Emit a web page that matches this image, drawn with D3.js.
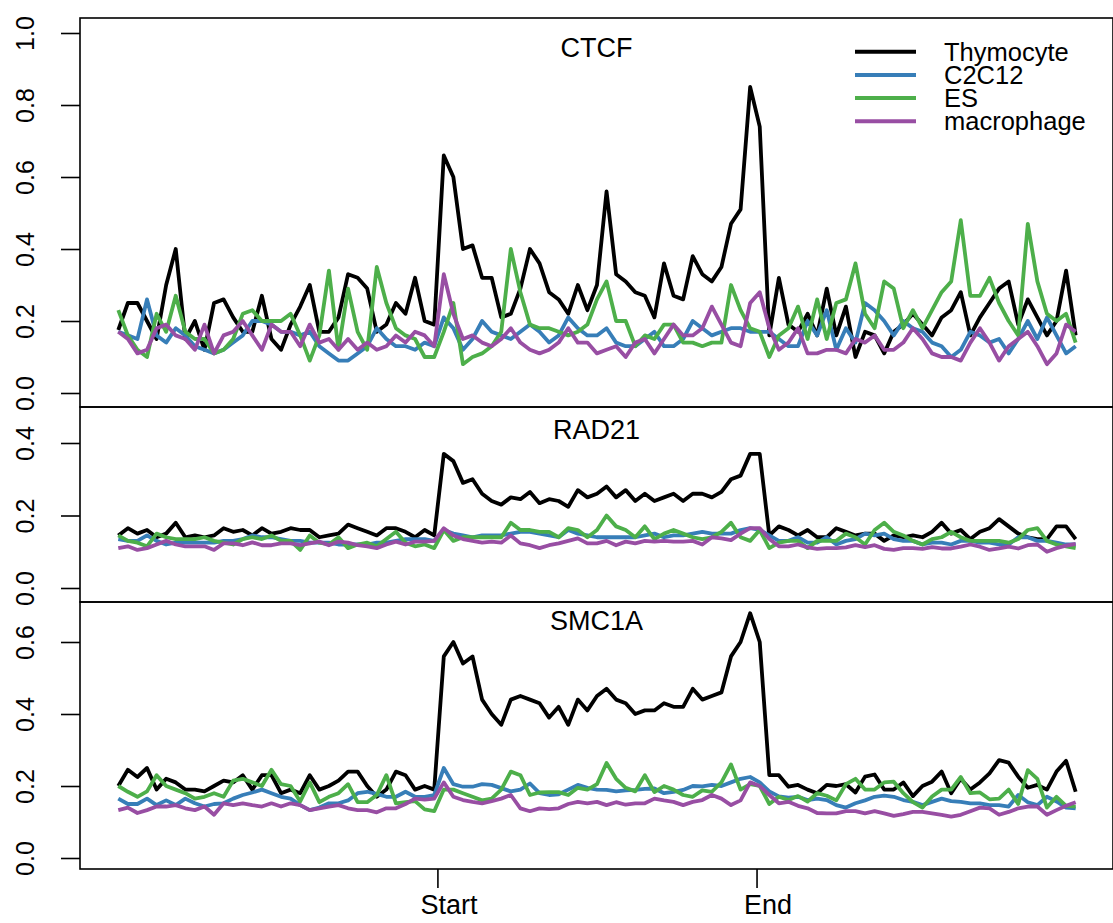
<!DOCTYPE html>
<html>
<head>
<meta charset="utf-8">
<script src="https://cdn.jsdelivr.net/npm/d3@7"></script>
<style>
  body { margin: 0; background: #fff; }
  text { font-family: "Liberation Sans", Arial, Helvetica, sans-serif; }
</style>
</head>
<body>
<svg id="chart" width="1113" height="923"></svg>
<script>

// cell types, in legend order
var cellTypes = ["Thymocyte", "C2C12", "ES", "macrophage"];
var cellColors = ["#000000", "#377EB8", "#4DAF4A", "#984EA3"];

// bins run 0..300, one value every 3rd bin; the region is bins 100..200
var binStep = 3;
var xTickBins = [100, 200];
var xTickLabels = ["Start", "End"];

var ctcfTicks = [0, 0.2, 0.4, 0.6, 0.8, 1.0];
var rad21Ticks = [0, 0.2, 0.4];
var smc1aTicks = [0, 0.2, 0.4, 0.6];

// ---- CTCF ----
var ctcfThymocyte = [0.175,0.25,0.25,0.2,0.15,0.30,0.40,0.15,0.20,0.12,0.25,0.26,0.21,0.17,0.17,0.27,0.15,0.12,0.19,0.24,0.30,0.17,0.17,0.21,0.33,0.32,0.29,0.17,0.19,0.25,0.22,0.32,0.20,0.19,
  0.66,0.60,0.40,0.41,0.32,0.32,0.21,0.22,0.29,0.40,0.36,0.28,0.26,0.22,0.30,0.23,0.30,0.56,0.33,0.31,0.28,0.27,0.21,0.36,0.27,0.26,0.38,0.33,0.31,0.35,0.47,0.51,0.85,0.74,
  0.16,0.32,0.19,0.17,0.22,0.16,0.29,0.16,0.24,0.10,0.17,0.16,0.11,0.17,0.19,0.22,0.19,0.16,0.21,0.23,0.28,0.16,0.21,0.25,0.29,0.31,0.19,0.26,0.21,0.16,0.20,0.34,0.16];
var ctcfC2C12 = [0.17,0.16,0.15,0.26,0.16,0.14,0.18,0.16,0.13,0.12,0.11,0.12,0.14,0.16,0.20,0.20,0.19,0.17,0.17,0.16,0.17,0.13,0.11,0.09,0.09,0.11,0.13,0.18,0.15,0.13,0.13,0.12,0.14,0.13,
  0.21,0.18,0.12,0.15,0.20,0.17,0.16,0.15,0.17,0.19,0.17,0.14,0.16,0.21,0.18,0.16,0.16,0.18,0.14,0.13,0.13,0.15,0.17,0.13,0.13,0.15,0.20,0.18,0.16,0.17,0.18,0.18,0.17,0.17,
  0.17,0.15,0.13,0.13,0.20,0.16,0.23,0.12,0.18,0.14,0.25,0.23,0.20,0.16,0.20,0.18,0.17,0.14,0.13,0.10,0.12,0.17,0.16,0.14,0.15,0.11,0.15,0.20,0.15,0.21,0.16,0.11,0.13];
var ctcfES = [0.23,0.16,0.12,0.10,0.22,0.17,0.27,0.17,0.15,0.15,0.11,0.12,0.15,0.22,0.23,0.20,0.20,0.20,0.22,0.16,0.09,0.16,0.34,0.12,0.29,0.17,0.12,0.35,0.25,0.18,0.16,0.15,0.10,0.10,
  0.17,0.25,0.08,0.10,0.11,0.13,0.17,0.40,0.28,0.19,0.18,0.18,0.17,0.16,0.17,0.19,0.26,0.31,0.20,0.20,0.13,0.16,0.15,0.19,0.19,0.14,0.14,0.13,0.14,0.14,0.30,0.23,0.18,0.17,
  0.10,0.16,0.18,0.24,0.15,0.26,0.15,0.25,0.26,0.36,0.22,0.18,0.31,0.29,0.18,0.23,0.18,0.23,0.28,0.31,0.48,0.27,0.27,0.32,0.25,0.20,0.16,0.47,0.31,0.22,0.20,0.22,0.14];
var ctcfMacrophage = [0.17,0.15,0.11,0.12,0.18,0.19,0.16,0.15,0.12,0.19,0.11,0.16,0.17,0.20,0.16,0.12,0.19,0.17,0.17,0.13,0.19,0.14,0.15,0.12,0.15,0.12,0.14,0.12,0.13,0.16,0.14,0.17,0.16,0.13,
  0.33,0.22,0.15,0.16,0.14,0.13,0.15,0.18,0.14,0.12,0.11,0.12,0.14,0.18,0.14,0.14,0.11,0.12,0.13,0.10,0.14,0.15,0.11,0.15,0.19,0.16,0.16,0.18,0.24,0.19,0.14,0.13,0.25,0.28,
  0.18,0.12,0.14,0.18,0.11,0.11,0.12,0.12,0.11,0.15,0.14,0.16,0.12,0.12,0.14,0.18,0.15,0.11,0.10,0.10,0.09,0.14,0.18,0.14,0.09,0.13,0.15,0.17,0.13,0.08,0.11,0.19,0.17];

// ---- RAD21 ----
var rad21Thymocyte = [0.145,0.165,0.15,0.16,0.14,0.15,0.18,0.14,0.145,0.14,0.145,0.165,0.155,0.16,0.145,0.165,0.15,0.155,0.165,0.16,0.16,0.14,0.145,0.15,0.175,0.165,0.155,0.145,0.165,0.165,0.155,0.14,0.16,0.145,
  0.37,0.35,0.29,0.30,0.26,0.24,0.23,0.25,0.245,0.265,0.234,0.245,0.24,0.224,0.27,0.25,0.26,0.28,0.25,0.27,0.24,0.26,0.24,0.25,0.26,0.24,0.26,0.26,0.25,0.265,0.30,0.31,0.37,0.37,
  0.145,0.17,0.16,0.145,0.16,0.14,0.14,0.165,0.155,0.145,0.15,0.15,0.13,0.145,0.14,0.145,0.14,0.155,0.18,0.15,0.16,0.135,0.155,0.165,0.19,0.17,0.15,0.14,0.135,0.135,0.17,0.17,0.135];
var rad21C2C12 = [0.135,0.13,0.13,0.145,0.13,0.12,0.125,0.125,0.125,0.125,0.125,0.13,0.13,0.135,0.145,0.14,0.14,0.135,0.13,0.13,0.125,0.125,0.125,0.12,0.12,0.12,0.12,0.125,0.125,0.13,0.135,0.135,0.135,0.13,
  0.16,0.15,0.145,0.14,0.145,0.145,0.145,0.15,0.155,0.155,0.15,0.145,0.14,0.16,0.15,0.145,0.14,0.14,0.14,0.14,0.14,0.145,0.15,0.14,0.145,0.145,0.15,0.155,0.15,0.15,0.15,0.16,0.165,0.16,
  0.145,0.13,0.13,0.14,0.125,0.125,0.14,0.12,0.13,0.135,0.15,0.145,0.15,0.135,0.13,0.13,0.12,0.125,0.125,0.12,0.13,0.13,0.125,0.125,0.12,0.12,0.14,0.14,0.13,0.13,0.125,0.12,0.12];
var rad21ES = [0.145,0.13,0.125,0.115,0.15,0.14,0.135,0.135,0.135,0.14,0.13,0.125,0.12,0.135,0.14,0.135,0.145,0.13,0.13,0.105,0.145,0.125,0.12,0.14,0.11,0.12,0.125,0.115,0.135,0.155,0.125,0.115,0.12,0.11,
  0.16,0.13,0.14,0.14,0.14,0.14,0.14,0.18,0.16,0.16,0.155,0.155,0.14,0.165,0.16,0.14,0.16,0.20,0.17,0.16,0.14,0.17,0.135,0.15,0.16,0.15,0.14,0.135,0.14,0.155,0.18,0.14,0.13,0.16,
  0.11,0.125,0.13,0.13,0.11,0.13,0.13,0.13,0.15,0.14,0.12,0.16,0.18,0.155,0.145,0.13,0.12,0.135,0.14,0.155,0.14,0.13,0.13,0.13,0.13,0.125,0.135,0.16,0.165,0.13,0.12,0.115,0.11];
var rad21Macrophage = [0.11,0.115,0.105,0.11,0.12,0.13,0.12,0.115,0.115,0.115,0.105,0.123,0.123,0.118,0.126,0.118,0.118,0.123,0.123,0.118,0.123,0.128,0.118,0.128,0.125,0.118,0.115,0.11,0.12,0.128,0.12,0.128,0.128,0.13,
  0.165,0.145,0.135,0.13,0.125,0.128,0.125,0.145,0.123,0.118,0.11,0.118,0.123,0.13,0.137,0.123,0.123,0.13,0.118,0.128,0.123,0.13,0.128,0.13,0.128,0.128,0.13,0.12,0.14,0.137,0.132,0.15,0.165,0.165,
  0.135,0.115,0.115,0.12,0.112,0.108,0.11,0.11,0.112,0.118,0.113,0.118,0.108,0.105,0.11,0.11,0.108,0.113,0.109,0.109,0.114,0.12,0.114,0.105,0.109,0.114,0.109,0.118,0.12,0.1,0.11,0.117,0.122];

// ---- SMC1A ----
var smc1aThymocyte = [0.20,0.245,0.225,0.25,0.19,0.22,0.21,0.19,0.19,0.185,0.20,0.215,0.21,0.23,0.19,0.23,0.23,0.18,0.19,0.18,0.23,0.19,0.20,0.215,0.24,0.24,0.20,0.17,0.19,0.24,0.23,0.19,0.20,0.19,
  0.56,0.60,0.54,0.56,0.44,0.40,0.37,0.44,0.45,0.44,0.43,0.39,0.42,0.37,0.44,0.41,0.45,0.47,0.44,0.43,0.40,0.41,0.41,0.43,0.42,0.42,0.47,0.44,0.45,0.46,0.56,0.60,0.68,0.60,
  0.23,0.23,0.198,0.203,0.19,0.18,0.203,0.20,0.205,0.182,0.226,0.232,0.19,0.19,0.21,0.172,0.20,0.212,0.24,0.18,0.22,0.19,0.21,0.235,0.272,0.265,0.226,0.195,0.203,0.19,0.24,0.27,0.184];
var smc1aC2C12 = [0.165,0.15,0.15,0.165,0.147,0.16,0.147,0.165,0.152,0.143,0.15,0.152,0.165,0.175,0.182,0.19,0.18,0.17,0.165,0.147,0.133,0.14,0.152,0.152,0.16,0.18,0.184,0.178,0.17,0.17,0.184,0.17,0.17,0.175,
  0.25,0.205,0.198,0.198,0.205,0.203,0.194,0.185,0.19,0.207,0.18,0.175,0.177,0.19,0.203,0.195,0.19,0.189,0.185,0.188,0.189,0.192,0.193,0.18,0.184,0.189,0.2,0.199,0.203,0.2,0.21,0.22,0.225,0.21,
  0.185,0.171,0.168,0.17,0.161,0.165,0.161,0.147,0.14,0.152,0.16,0.17,0.173,0.17,0.161,0.156,0.147,0.156,0.165,0.158,0.156,0.152,0.152,0.147,0.147,0.143,0.175,0.155,0.147,0.17,0.157,0.14,0.138];
var smc1aES = [0.20,0.184,0.17,0.185,0.23,0.20,0.19,0.18,0.165,0.17,0.18,0.17,0.215,0.22,0.21,0.20,0.245,0.205,0.20,0.157,0.21,0.155,0.17,0.18,0.205,0.155,0.155,0.175,0.23,0.152,0.155,0.158,0.135,0.13,
  0.19,0.19,0.18,0.17,0.16,0.165,0.19,0.24,0.23,0.175,0.182,0.183,0.183,0.175,0.195,0.19,0.205,0.264,0.22,0.195,0.185,0.23,0.183,0.2,0.19,0.175,0.17,0.188,0.184,0.21,0.26,0.19,0.205,0.2,
  0.15,0.17,0.161,0.172,0.157,0.18,0.173,0.16,0.205,0.22,0.19,0.19,0.21,0.212,0.18,0.155,0.14,0.171,0.19,0.19,0.225,0.18,0.182,0.163,0.165,0.19,0.15,0.244,0.22,0.14,0.17,0.145,0.143];
var smc1aMacrophage = [0.133,0.14,0.125,0.133,0.143,0.143,0.147,0.138,0.133,0.143,0.12,0.152,0.147,0.152,0.147,0.143,0.152,0.143,0.152,0.147,0.133,0.138,0.143,0.147,0.138,0.133,0.133,0.127,0.138,0.138,0.15,0.165,0.162,0.165,
  0.21,0.17,0.161,0.156,0.152,0.158,0.165,0.175,0.138,0.13,0.138,0.136,0.138,0.15,0.156,0.152,0.156,0.147,0.155,0.148,0.152,0.152,0.165,0.16,0.156,0.147,0.156,0.161,0.175,0.165,0.147,0.16,0.21,0.2,
  0.175,0.152,0.156,0.145,0.138,0.125,0.124,0.124,0.13,0.13,0.124,0.13,0.124,0.117,0.122,0.128,0.128,0.124,0.12,0.115,0.12,0.13,0.14,0.138,0.12,0.128,0.138,0.143,0.143,0.12,0.133,0.145,0.155];

// panel layout (pixels) -- all three share one x scale
var panels = [
  { title: "CTCF",  top: 18,  bottom: 407, zero: 393, unit: 360,   titleY: 57,  ticks: ctcfTicks,
    lines: [ctcfThymocyte, ctcfC2C12, ctcfES, ctcfMacrophage] },
  { title: "RAD21", top: 407, bottom: 602, zero: 588, unit: 362.5, titleY: 439, ticks: rad21Ticks,
    lines: [rad21Thymocyte, rad21C2C12, rad21ES, rad21Macrophage] },
  { title: "SMC1A", top: 602, bottom: 869, zero: 858, unit: 360,   titleY: 630, ticks: smc1aTicks,
    lines: [smc1aThymocyte, smc1aC2C12, smc1aES, smc1aMacrophage] }
];

var left = 80, right = 1113;
var svg = d3.select("#chart");
var fmt = d3.format(".1f");

var x = d3.scaleLinear().domain([-12, 311.7]).range([left, right]);

panels.forEach(function (p) {
  // y domain worked out from where 0 sits and pixels per unit
  var y = d3.scaleLinear()
    .domain([(p.zero - p.bottom) / p.unit, (p.zero - p.top) / p.unit])
    .range([p.bottom, p.top]);

  var g = svg.append("g").attr("class", "panel");

  var line = d3.line()
    .x(function (d, i) { return x(i * binStep) })
    .y(function (d) { return y(d) });

  g.selectAll(".series")
    .data(p.lines)
    .enter()
    .append("path")
    .attr("class", "series")
    .attr("d", line)
    .style("fill", "none")
    .style("stroke", function (d, i) { return cellColors[i] })
    .style("stroke-width", 3.8)
    .style("stroke-linejoin", "round");

  // y axis, R style: labels turned to read upwards
  var ax = g.append("g")
    .attr("transform", "translate(" + left + ",0)")
    .call(d3.axisLeft(y).tickValues(p.ticks).tickFormat(fmt).tickSize(19));
  ax.select(".domain").remove();
  ax.selectAll("line").style("stroke", "#000").style("stroke-width", 1.6);
  ax.selectAll("text")
    .attr("x", null).attr("dy", null)
    .attr("transform", "translate(-46,0) rotate(-90)")
    .style("text-anchor", "middle")
    .style("font-size", "25px")
    .style("fill", "#000");

  g.append("rect")
    .attr("x", left).attr("y", p.top)
    .attr("width", right - left).attr("height", p.bottom - p.top)
    .style("fill", "none").style("stroke", "#000").style("stroke-width", 1.6);

  g.append("text")
    .attr("x", (left + right) / 2)
    .attr("y", p.titleY)
    .style("text-anchor", "middle")
    .style("font-size", "27px")
    .text(p.title);
});

// x axis under the last panel
var lastBottom = panels[panels.length - 1].bottom;
var xa = svg.append("g")
  .attr("transform", "translate(0," + lastBottom + ")")
  .call(d3.axisBottom(x).tickValues(xTickBins)
    .tickFormat(function (d, i) { return xTickLabels[i] }).tickSize(19).tickPadding(7));
xa.select(".domain").remove();
xa.selectAll("line").style("stroke", "#000").style("stroke-width", 1.6);
xa.selectAll("text").attr("dx", 11).style("font-size", "27px").style("fill", "#000");

// legend
var legend = svg.append("g").attr("class", "legend");
legend.selectAll(".key")
  .data(cellTypes)
  .enter()
  .append("line")
  .attr("x1", 855).attr("x2", 916)
  .attr("y1", function (d, i) { return 51.7 + 23.2 * i })
  .attr("y2", function (d, i) { return 51.7 + 23.2 * i })
  .style("stroke", function (d, i) { return cellColors[i] })
  .style("stroke-width", 4);
legend.selectAll(".lab")
  .data(cellTypes)
  .enter()
  .append("text")
  .attr("x", 944)
  .attr("y", function (d, i) { return 51.7 + 23.2 * i })
  .attr("dy", "0.35em")
  .style("font-size", "25.5px")
  .text(function (d) { return d });

</script>
</body>
</html>
